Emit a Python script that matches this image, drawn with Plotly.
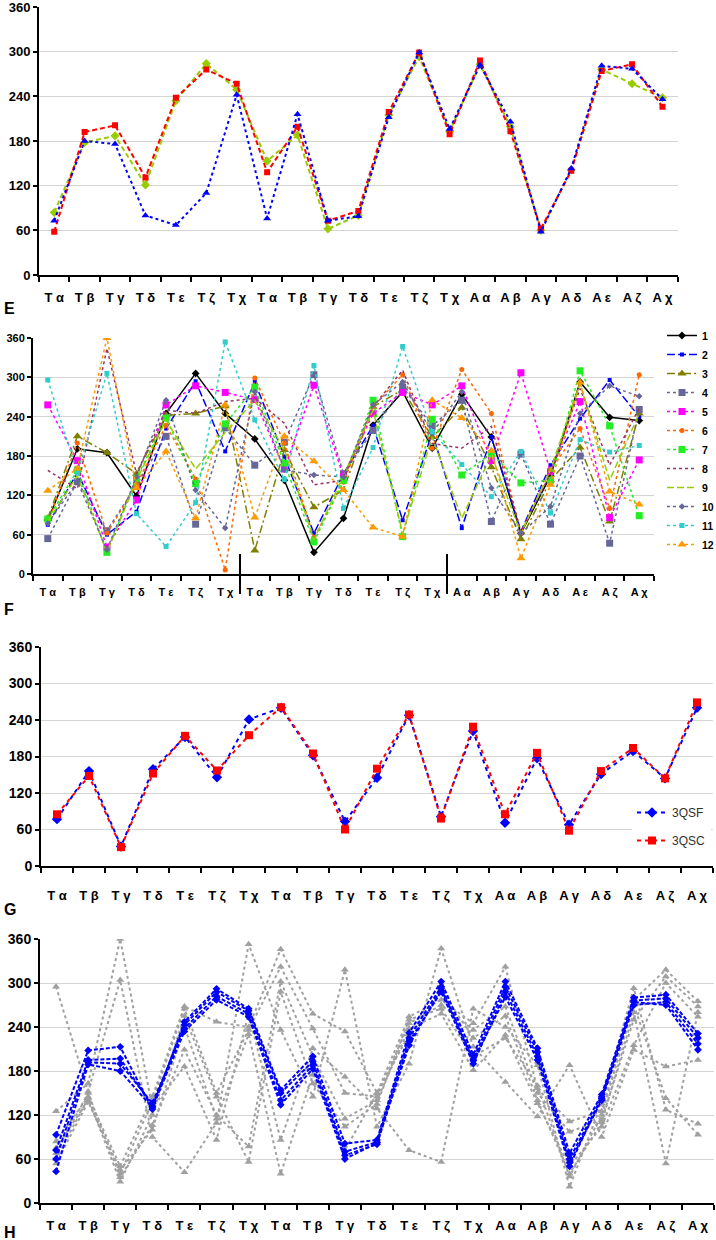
import plotly.graph_objects as go

labels = ["T α", "T β", "T γ", "T δ", "T ε", "T ζ", "T χ",
          "T α", "T β", "T γ", "T δ", "T ε", "T ζ", "T χ",
          "A α", "A β", "A γ", "A δ", "A ε", "A ζ", "A χ"]
idx = list(range(len(labels)))
yticks = [0, 60, 120, 180, 240, 300, 360]

# Panel E
E_red = [58, 192, 201, 131, 238, 276, 257, 138, 199, 73, 86, 219, 299, 189, 288, 193, 62, 140, 274, 283, 226]
E_green = [84, 178, 187, 121, 234, 284, 249, 153, 188, 62, 80, 215, 293, 193, 283, 199, 60, 141, 276, 257, 238]
E_blue = [73, 180, 176, 80, 67, 110, 242, 76, 216, 73, 79, 212, 299, 196, 282, 206, 58, 143, 281, 277, 236]

# Panel F (series 1..12)
F1 = [82, 191, 185, 119, 245, 306, 245, 206, 143, 33, 85, 227, 278, 192, 274, 209, 62, 150, 293, 239, 234]
F2 = [75, 155, 60, 95, 222, 294, 187, 293, 179, 62, 153, 226, 82, 215, 70, 209, 65, 166, 237, 296, 240]
F3 = [85, 210, 185, 153, 242, 245, 256, 36, 189, 102, 128, 255, 281, 209, 254, 163, 53, 143, 193, 80, 245]
F4 = [54, 141, 66, 136, 210, 76, 223, 166, 201, 304, 153, 219, 285, 226, 265, 80, 183, 76, 180, 47, 251]
F5 = [258, 173, 41, 113, 258, 287, 277, 266, 160, 288, 148, 245, 277, 258, 287, 173, 307, 156, 263, 86, 174]
F6 = [78, 200, 62, 136, 227, 145, 6, 299, 200, 55, 140, 255, 304, 192, 312, 245, 62, 159, 222, 100, 304]
F7 = [84, 158, 33, 146, 238, 138, 229, 285, 169, 49, 143, 265, 57, 236, 151, 184, 139, 143, 310, 226, 89]
F8 = [158, 130, 344, 153, 250, 245, 263, 268, 230, 136, 143, 255, 311, 199, 192, 225, 65, 153, 283, 166, 253]
F9 = [80, 150, 33, 143, 235, 160, 216, 265, 190, 52, 150, 250, 62, 209, 85, 182, 62, 159, 291, 143, 245]
F10 = [77, 141, 37, 148, 265, 128, 70, 278, 159, 151, 148, 258, 293, 215, 278, 131, 62, 103, 245, 287, 271]
F11 = [296, 154, 306, 92, 42, 109, 354, 235, 144, 318, 100, 193, 347, 217, 167, 118, 187, 93, 205, 186, 196]
F12 = [127, 161, 360, 131, 187, 85, 258, 86, 210, 172, 128, 71, 57, 265, 238, 188, 24, 136, 292, 126, 106]
F_names = ["1", "2", "3", "4", "5", "6", "7", "8", "9", "10", "11", "12"]

# Panel G
G_3QSF = [77, 156, 32, 159, 212, 146, 241, 260, 182, 73, 145, 248, 81, 222, 71, 177, 68, 151, 189, 144, 260]
G_3QSC = [85, 148, 31, 152, 214, 157, 215, 261, 185, 60, 160, 249, 78, 229, 85, 186, 58, 156, 194, 144, 269]

# Panel H
H_gray1 = [84, 145, 50, 145, 268, 247, 240, 346, 258, 234, 150, 254, 277, 245, 322, 156, 111, 125, 277, 318, 275]
H_gray2 = [75, 140, 40, 138, 265, 150, 236, 322, 238, 150, 145, 245, 270, 236, 268, 150, 97, 113, 250, 309, 268]
H_gray3 = [68, 150, 35, 106, 209, 120, 77, 302, 200, 115, 140, 238, 258, 181, 229, 136, 50, 104, 215, 300, 254]
H_gray4 = [60, 143, 29, 120, 255, 145, 56, 288, 163, 104, 135, 250, 265, 200, 225, 160, 36, 120, 270, 143, 93]
H_gray5 = [54, 138, 45, 100, 240, 115, 230, 40, 175, 72, 150, 230, 290, 225, 255, 140, 40, 110, 260, 54, 260]
H_gray6 = [295, 152, 304, 90, 42, 109, 353, 236, 145, 318, 104, 190, 347, 213, 165, 118, 188, 90, 209, 186, 195]
H_gray7 = [125, 163, 360, 130, 186, 86, 258, 86, 211, 172, 129, 72, 56, 265, 240, 188, 22, 136, 293, 127, 108]
H_blue1 = [93, 208, 213, 128, 247, 292, 265, 154, 200, 81, 86, 232, 302, 202, 302, 211, 68, 148, 280, 284, 231]
H_blue2 = [72, 195, 197, 132, 243, 288, 262, 150, 193, 70, 83, 225, 295, 196, 295, 206, 60, 143, 276, 279, 225]
H_blue3 = [60, 192, 190, 136, 238, 282, 258, 140, 188, 65, 80, 220, 288, 190, 288, 200, 55, 140, 270, 274, 217]
H_blue4 = [43, 189, 180, 130, 234, 277, 254, 134, 183, 60, 82, 215, 292, 194, 281, 195, 50, 145, 274, 270, 209]

W, H = 716, 1240
fig = go.Figure()

# ---- Panel E
for vals, col, sym, sz, dash in [
    (E_green, "#99CC00", "diamond", 7, "5px,3px"),
    (E_red, "#FF0000", "square", 6, "5px,3px"),
    (E_blue, "#0000FF", "triangle-up", 7, "3px,3px"),
]:
    fig.add_trace(go.Scatter(x=idx, y=vals, mode="lines+markers", xaxis="x", yaxis="y",
                             line=dict(color=col, width=2, dash=dash),
                             marker=dict(symbol=sym, size=sz, color=col),
                             showlegend=False))

# ---- Panel F
F_series = [F1, F2, F3, F4, F5, F6, F7, F8, F9, F10, F11, F12]
F_styles = [
    ("#000000", "solid", "diamond", 6, "lines+markers"),
    ("#0000FF", "8px,3px", "square", 4, "lines+markers"),
    ("#808000", "8px,3px,2px,3px", "triangle-up", 8, "lines+markers"),
    ("#666699", "3px,3px", "square", 7, "lines+markers"),
    ("#FF00FF", "3px,3px", "square", 7, "lines+markers"),
    ("#FF6600", "3px,3px", "circle", 5, "lines+markers"),
    ("#22EE22", "3px,3px", "square", 7, "lines+markers"),
    ("#993366", "3px,3px", "line-ew", 5, "lines"),
    ("#99CC00", "7px,3px", "line-ew", 5, "lines"),
    ("#666699", "3px,3px", "diamond", 5, "lines+markers"),
    ("#33CCCC", "3px,3px", "square", 5, "lines+markers"),
    ("#FF9900", "3px,3px", "triangle-up", 8, "lines+markers"),
]
for name, vals, (col, dash, sym, sz, mode) in zip(F_names, F_series, F_styles):
    fig.add_trace(go.Scatter(x=idx, y=vals, mode=mode, name=name, xaxis="x2", yaxis="y2",
                             line=dict(color=col, width=1.5, dash=dash),
                             marker=dict(symbol=sym, size=sz, color=col),
                             legend="legend"))

# ---- Panel G
fig.add_trace(go.Scatter(x=idx, y=G_3QSF, mode="lines+markers", name="3QSF", xaxis="x3", yaxis="y3",
                         line=dict(color="#0000FF", width=2, dash="4px,4px"),
                         marker=dict(symbol="diamond", size=8, color="#0000FF"),
                         legend="legend2", legendgroup="a"))
fig.add_trace(go.Scatter(x=idx, y=G_3QSC, mode="lines+markers", name="3QSC", xaxis="x3", yaxis="y3",
                         line=dict(color="#FF0000", width=2, dash="4px,4px"),
                         marker=dict(symbol="square", size=8, color="#FF0000"),
                         legend="legend2", legendgroup="b"))

# ---- Panel H
for vals in [H_gray1, H_gray2, H_gray3, H_gray4, H_gray5, H_gray6, H_gray7]:
    fig.add_trace(go.Scatter(x=idx, y=vals, mode="lines+markers", xaxis="x4", yaxis="y4",
                             line=dict(color="#A0A0A0", width=2, dash="3px,3px"),
                             marker=dict(symbol="triangle-up", size=7, color="#A0A0A0"),
                             showlegend=False))
for vals in [H_blue1, H_blue2, H_blue3, H_blue4]:
    fig.add_trace(go.Scatter(x=idx, y=vals, mode="lines+markers", xaxis="x4", yaxis="y4",
                             line=dict(color="#0000FF", width=2, dash="4px,2px"),
                             marker=dict(symbol="diamond", size=6, color="#0000FF"),
                             showlegend=False))


def px_x(a, b):
    return [a / W, b / W]


def px_y(top, bottom):
    return [1 - bottom / H, 1 - top / H]


def xax(domain, anchor, fs, standoff):
    return dict(domain=domain, anchor=anchor, range=[-0.5, 20.5], automargin=False,
                tickmode="array", tickvals=idx, ticktext=labels, ticks="",
                showline=True, linecolor="black", linewidth=2,
                showgrid=False, zeroline=False, ticklabelstandoff=standoff,
                ticklabeloverflow="allow",
                tickfont=dict(family="Arial", size=fs, color="black", weight="bold"),
                minor=dict(tickmode="array", tickvals=[i - 0.5 for i in range(22)],
                           ticks="outside", ticklen=5, tickwidth=1.5, tickcolor="black",
                           showgrid=False))


def yax(domain, anchor, fs):
    return dict(domain=domain, anchor=anchor, range=[0, 360], automargin=False,
                tickmode="array", tickvals=yticks,
                showgrid=True, gridcolor="#D4D4D4", gridwidth=1,
                showline=True, linecolor="black", linewidth=2,
                ticks="outside", ticklen=4, tickwidth=1.5, tickcolor="black",
                zeroline=False, ticklabeloverflow="allow",
                tickfont=dict(family="Arial", size=fs, color="black", weight="bold"))


fig.update_layout(
    width=W, height=H,
    margin=dict(l=0, r=0, t=0, b=0, autoexpand=False),
    paper_bgcolor="white", plot_bgcolor="white",
    xaxis=xax(px_x(39, 677.7), "y", 13, 9),
    yaxis=yax(px_y(7, 275), "x", 13),
    xaxis2=xax(px_x(33, 654), "y2", 11, 7),
    yaxis2=yax(px_y(338, 574), "x2", 11),
    xaxis3=xax(px_x(41, 713), "y3", 13, 16),
    yaxis3=yax(px_y(647, 866), "x3", 14),
    xaxis4=xax(px_x(40, 714), "y4", 13, 9),
    yaxis4=yax(px_y(939, 1203), "x4", 14),
    legend=dict(x=662 / W, y=1 - 321 / H, xanchor="left", yanchor="top",
                font=dict(family="Arial", size=10.5, color="black", weight="bold"),
                bgcolor="rgba(0,0,0,0)", itemwidth=30, tracegroupgap=0),
    legend2=dict(x=632 / W, y=1 - 798 / H, xanchor="left", yanchor="top",
                 font=dict(family="Arial", size=12, color="#303030"),
                 bgcolor="white", itemwidth=30, tracegroupgap=9),
    showlegend=True,
)

# Separator lines in panel F
for xv in [6.5, 13.5]:
    fig.add_shape(type="line", xref="x2", yref="paper", x0=xv, x1=xv,
                  y0=1 - 594 / H, y1=1 - 554 / H, line=dict(color="black", width=2))

# Panel letters
for letter, ypx in [("E", 308), ("F", 609), ("G", 909), ("H", 1232)]:
    fig.add_annotation(text=letter, xref="paper", yref="paper", x=2 / W, y=1 - ypx / H,
                       xanchor="left", yanchor="middle", showarrow=False,
                       font=dict(family="Arial", size=16, color="black", weight="bold"))

fig.write_html("out.html", config={"displayModeBar": False},
               post_script="document.body.style.margin='0';document.body.style.padding='0';")
